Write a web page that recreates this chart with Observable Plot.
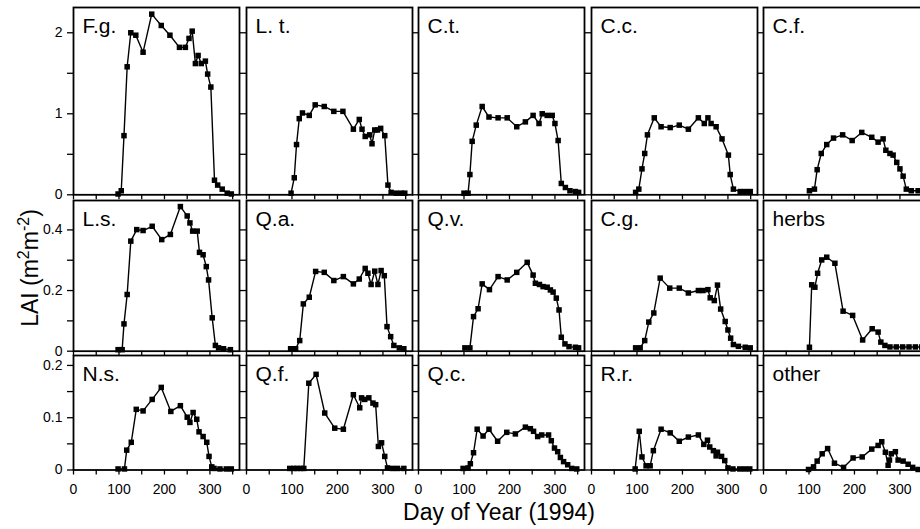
<!DOCTYPE html>
<html><head><meta charset="utf-8">
<script src="https://cdn.jsdelivr.net/npm/d3@7"></script>
<script src="https://cdn.jsdelivr.net/npm/@observablehq/plot@0.6"></script>
<style>
html,body{margin:0;padding:0;background:#fff;}
#fig{position:relative;width:920px;height:529px;overflow:hidden;background:#fff;font-family:"Liberation Sans",Arial,sans-serif;color:#000;}
#ylab{position:absolute;left:29px;top:268px;transform:translate(-50%,-50%) rotate(-90deg);font-size:23px;white-space:nowrap;line-height:1;}
#ylab sup{font-size:16px;}
#xlab{position:absolute;left:499px;top:499px;transform:translateX(-50%);font-size:23px;white-space:nowrap;}
</style></head>
<body><div id="fig"><div id="ylab">LAI (m<sup>2</sup>m<sup>-2</sup>)</div><div id="xlab">Day of Year (1994)</div></div>
<script>
// Panel labels by row
const rowLabels = [["F.g.","L. t.","C.t.","C.c.","C.f."],["L.s.","Q.a.","Q.v.","C.g.","herbs"],["N.s.","Q.f.","Q.c.","R.r.","other"]];
// y tick labels per row
const yMajor = [[0,1,2],[0,0.2,0.4],[0,0.1,0.2]];
const yMinor = [[0.5,1.5],[0.1,0.3],[0.05,0.15]];
const yMax = [2.312,0.497,0.219];
const xMajor = [0,100,200,300];
const xMinor = [50,150,250,350];

// [day, LAI]
const Fg = [[98,0.01],[105,0.05],[111,0.73],[118,1.58],[126,2.0],[137,1.97],[153,1.76],[172,2.23],[193,2.09],[212,1.97],[233,1.82],[246,1.82],[254,1.93],[261,2.02],[268,1.62],[274,1.72],[281,1.62],[290,1.65],[295,1.49],[302,1.33],[310,0.18],[317,0.12],[327,0.07],[338,0.02],[347,0.01]];
const Lt = [[98,0.02],[105,0.21],[110,0.62],[116,0.94],[123,1.01],[138,0.98],[151,1.11],[171,1.09],[192,1.03],[212,1.03],[235,0.81],[248,0.93],[254,0.81],[261,0.72],[271,0.74],[276,0.63],[282,0.80],[288,0.80],[295,0.82],[304,0.73],[311,0.12],[318,0.03],[329,0.02],[340,0.02],[348,0.02]];
const Ct = [[100,0.02],[109,0.02],[113,0.25],[118,0.66],[127,0.86],[140,1.09],[155,0.96],[175,0.95],[195,0.95],[216,0.84],[235,0.90],[252,0.98],[265,0.88],[272,1.00],[283,0.98],[294,0.98],[300,0.88],[307,0.67],[314,0.14],[323,0.09],[333,0.05],[345,0.04],[352,0.03]];
const Cc = [[97,0.03],[104,0.07],[111,0.32],[117,0.51],[123,0.74],[138,0.95],[153,0.84],[173,0.83],[193,0.86],[213,0.81],[235,0.95],[248,0.88],[256,0.95],[263,0.88],[274,0.84],[287,0.69],[301,0.49],[305,0.25],[312,0.07],[327,0.04],[338,0.04],[349,0.04]];
const Cf = [[101,0.05],[112,0.07],[118,0.31],[127,0.51],[139,0.62],[154,0.70],[174,0.74],[195,0.67],[216,0.77],[238,0.71],[252,0.65],[263,0.69],[269,0.55],[278,0.51],[285,0.49],[293,0.40],[300,0.32],[307,0.23],[314,0.07],[325,0.05],[340,0.05],[352,0.04]];
const Ls = [[98,0.005],[107,0.005],[111,0.09],[118,0.187],[126,0.363],[139,0.401],[153,0.398],[173,0.412],[194,0.368],[213,0.385],[235,0.477],[250,0.446],[256,0.423],[262,0.396],[272,0.396],[277,0.326],[285,0.318],[292,0.279],[297,0.235],[305,0.11],[312,0.019],[319,0.011],[330,0.008],[345,0.005]];
const Qa = [[97,0.008],[108,0.008],[117,0.035],[125,0.156],[138,0.178],[152,0.263],[171,0.26],[192,0.233],[213,0.246],[235,0.222],[248,0.238],[261,0.273],[267,0.257],[274,0.22],[282,0.264],[289,0.22],[296,0.266],[303,0.249],[309,0.081],[317,0.048],[324,0.019],[336,0.011],[346,0.008]];
const Qv = [[102,0.011],[113,0.011],[121,0.114],[131,0.14],[140,0.222],[156,0.203],[175,0.246],[195,0.235],[216,0.26],[239,0.293],[252,0.251],[257,0.224],[266,0.22],[274,0.213],[283,0.211],[290,0.202],[296,0.195],[303,0.175],[309,0.136],[314,0.046],[322,0.024],[331,0.015],[345,0.013],[352,0.011]];
const Cg = [[97,0.011],[107,0.011],[117,0.035],[126,0.096],[137,0.126],[151,0.241],[172,0.208],[193,0.208],[213,0.192],[235,0.2],[245,0.2],[256,0.203],[261,0.176],[270,0.167],[277,0.218],[284,0.139],[294,0.098],[300,0.07],[306,0.043],[312,0.022],[323,0.016],[338,0.013],[349,0.011]];
const Herbs = [[101,0.013],[106,0.219],[113,0.211],[119,0.257],[128,0.301],[139,0.31],[157,0.29],[175,0.132],[196,0.118],[218,0.037],[239,0.074],[252,0.063],[258,0.03],[267,0.019],[278,0.014],[292,0.014],[306,0.014],[320,0.014],[334,0.014],[348,0.014],[360,0.014]];
const Ns = [[98,0.002],[112,0.002],[117,0.038],[127,0.053],[138,0.116],[153,0.113],[173,0.135],[193,0.158],[214,0.112],[235,0.123],[250,0.101],[256,0.091],[263,0.11],[271,0.097],[276,0.073],[285,0.064],[293,0.053],[298,0.026],[304,0.006],[309,0.003],[322,0.002],[336,0.002],[347,0.002]];
const Qf = [[95,0.003],[104,0.003],[111,0.003],[119,0.003],[126,0.003],[137,0.166],[153,0.183],[172,0.109],[194,0.08],[213,0.078],[235,0.144],[249,0.119],[253,0.138],[260,0.135],[269,0.138],[278,0.128],[284,0.125],[290,0.045],[297,0.052],[304,0.026],[310,0.004],[321,0.003],[332,0.003],[346,0.003]];
const Qc = [[98,0.003],[109,0.004],[114,0.012],[121,0.033],[129,0.078],[142,0.065],[155,0.078],[174,0.055],[194,0.072],[213,0.069],[235,0.082],[246,0.079],[253,0.074],[262,0.064],[271,0.067],[286,0.067],[292,0.056],[299,0.042],[306,0.035],[312,0.024],[319,0.016],[328,0.01],[337,0.003],[348,0.002]];
const Rr = [[96,0.002],[105,0.074],[111,0.025],[120,0.008],[129,0.008],[136,0.037],[153,0.078],[173,0.071],[193,0.055],[213,0.063],[235,0.067],[247,0.049],[255,0.057],[260,0.044],[268,0.037],[274,0.027],[277,0.034],[286,0.026],[293,0.018],[300,0.004],[311,0.002],[326,0.002],[337,0.002],[348,0.002]];
const Other = [[99,0.001],[110,0.006],[118,0.017],[129,0.031],[141,0.041],[156,0.013],[176,0.005],[197,0.023],[217,0.025],[238,0.04],[252,0.047],[260,0.054],[268,0.034],[274,0.009],[277,0.019],[281,0.031],[290,0.035],[296,0.019],[307,0.017],[318,0.011],[328,0.005],[340,0.001],[352,0.001]];

const seriesGrid = [[Fg,Lt,Ct,Cc,Cf],[Ls,Qa,Qv,Cg,Herbs],[Ns,Qf,Qc,Rr,Other]];

// layout (pixels)
const rowTop = [7,200,355], rowBottom = [194.3,350.7,469.5];
const colLeft0 = 73, colPitch = 172.6, panelW = 166;
const mL = 45, mR = 5, mT = 5, mB = 35;
const font = "'Liberation Sans', Arial, sans-serif";
const fig = document.getElementById("fig");

for (let r = 0; r < 3; r++) {
  for (let c = 0; c < 5; c++) {
    const data = seriesGrid[r][c].map(([day, lai]) => ({day, lai}));
    const h = rowBottom[r] - rowTop[r];
    const left = colLeft0 + colPitch * c;
    const yTicks = [...yMajor[r], ...yMinor[r]];
    const svg = Plot.plot({
      width: panelW + mL + mR,
      height: h + mT + mB,
      marginLeft: mL, marginRight: mR, marginTop: mT, marginBottom: mB,
      x: {domain: [0, 365], label: null},
      y: {domain: [0, yMax[r]], label: null},
      style: {background: "transparent", fontFamily: font, fontSize: "14px", color: "black", overflow: "visible"},
      marks: [
        Plot.axisX({ticks: [...xMajor, ...xMinor], tickSize: 5, tickPadding: 9, strokeWidth: 1.3,
          tickFormat: d => (r === 2 && xMajor.includes(d)) ? String(d) : "", label: null, fontSize: 14}),
        Plot.axisY({ticks: yTicks, tickSize: 6, tickPadding: 5, strokeWidth: 1.3,
          tickFormat: d => (c === 0 && yMajor[r].includes(d)) ? String(d) : "", label: null, fontSize: 14}),
        Plot.frame({stroke: "black", strokeWidth: 1.8}),
        Plot.line(data, {x: "day", y: "lai", stroke: "black", strokeWidth: 1.4}),
        Plot.dot(data, {x: "day", y: "lai", symbol: "square", fill: "black", stroke: "none", r: 3.1}),
        Plot.text([rowLabels[r][c]], {frameAnchor: "top-left", text: d => d, dx: 9, dy: 11, lineAnchor: "top", textAnchor: "start", fontSize: 21, fill: "black"})
      ]
    });
    svg.style.position = "absolute";
    svg.style.left = (left - mL) + "px";
    svg.style.top = (rowTop[r] - mT) + "px";
    svg.style.maxWidth = "none";
    fig.appendChild(svg);
  }
}
</script>
</body></html>
